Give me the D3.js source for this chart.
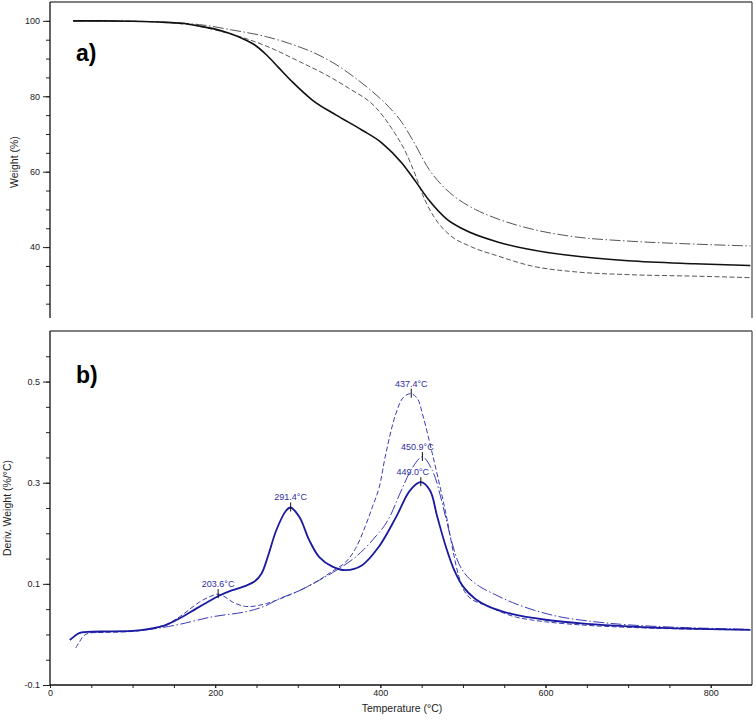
<!DOCTYPE html>
<html>
<head>
<meta charset="utf-8">
<script src="https://cdn.jsdelivr.net/npm/d3@7/dist/d3.min.js"></script>
<style>
  html, body { margin: 0; padding: 0; background: #fff; }
  svg { display: block; }
  text { font-family: "Liberation Sans", Arial, sans-serif; }
</style>
</head>
<body>
<svg id="chart" width="756" height="720"></svg>
<script>
// ---------- DATA ----------
// TGA (top panel): weight % vs temperature
const tgaSolidT = [28, 60, 100, 140, 163, 181, 200, 217, 233, 248, 262, 276, 293.5, 317.6, 346.6, 378, 402, 426, 443, 459, 480, 500, 543, 583, 633, 700, 780, 848];
const tgaSolidV = [100, 100, 99.9, 99.6, 99.3, 98.6, 97.8, 96.7, 95.3, 93.6, 91.0, 87.8, 83.8, 79.0, 75.0, 71.0, 67.6, 62.3, 57.3, 52.4, 47.5, 44.8, 41.3, 39.3, 37.7, 36.4, 35.6, 35.1];

const tgaDashT = [28, 100, 161, 200, 233, 262, 302, 335, 362, 394.5, 414, 431, 443, 451, 465, 483, 510, 543, 583, 633, 700, 780, 848];
const tgaDashV = [100, 99.9, 99.2, 97.6, 95.6, 93.3, 89.2, 85.6, 82.1, 77.0, 71.4, 65.0, 58.8, 54.0, 48.0, 43.4, 40.1, 37.6, 35.0, 33.5, 32.7, 32.3, 31.9];

const tgaDotT = [28, 100, 181, 220, 262, 290, 322, 345, 370, 390, 410.6, 425, 438.6, 459, 475, 491, 515, 543, 583, 633, 700, 780, 848];
const tgaDotV = [100, 99.9, 99.0, 97.6, 95.8, 94.0, 91.3, 88.6, 84.8, 81.3, 77.1, 73.4, 68.6, 60.6, 56.3, 53.2, 50.0, 47.4, 44.8, 42.8, 41.6, 40.8, 40.3];

// DTG (bottom panel): derivative weight %/°C vs temperature
const dtgSolidT = [24, 30, 36, 45, 70, 100, 120, 141, 157, 177, 190, 204, 220, 237, 248, 256, 264, 274, 286, 291.4, 302, 314, 326, 342, 358, 378, 398, 419, 436, 449, 460, 469, 480, 490, 500, 515, 530, 560, 600, 650, 700, 760, 848];
const dtgSolidV = [-0.011, -0.003, 0.003, 0.005, 0.006, 0.007, 0.011, 0.019, 0.032, 0.051, 0.063, 0.076, 0.087, 0.096, 0.105, 0.12, 0.155, 0.206, 0.245, 0.251, 0.232, 0.186, 0.153, 0.134, 0.127, 0.137, 0.173, 0.232, 0.285, 0.301, 0.285, 0.232, 0.17, 0.125, 0.095, 0.07, 0.056, 0.04, 0.029, 0.021, 0.016, 0.012, 0.009];

const dtgDashT = [31, 36, 40, 46, 70, 100, 120, 141, 157, 181, 194, 204, 213, 221, 232, 241.5, 262, 290, 318, 342, 358, 370, 382, 391, 398.5, 406.6, 418.7, 428, 437.4, 445, 451, 463, 475, 481, 488, 495, 502, 510, 520, 532, 545, 565, 600, 650, 700, 760, 848];
const dtgDashV = [-0.027, -0.014, -0.004, 0.002, 0.004, 0.006, 0.01, 0.02, 0.035, 0.064, 0.075, 0.0797, 0.073, 0.064, 0.057, 0.055, 0.061, 0.078, 0.1, 0.125, 0.143, 0.17, 0.215, 0.255, 0.29, 0.357, 0.436, 0.469, 0.476, 0.466, 0.436, 0.357, 0.272, 0.226, 0.165, 0.115, 0.085, 0.07, 0.062, 0.055, 0.045, 0.034, 0.025, 0.018, 0.014, 0.011, 0.009];

const dtgDotT = [32, 38, 50, 80, 110, 130, 157, 197, 237.5, 260, 278, 300, 318, 342, 366, 380, 395, 405, 413, 423, 439, 450.9, 463, 473, 479, 487, 495, 505, 520, 540, 560, 590, 620, 660, 700, 760, 848];
const dtgDotV = [0.0, 0.004, 0.005, 0.006, 0.008, 0.012, 0.02, 0.035, 0.045, 0.056, 0.071, 0.085, 0.1, 0.122, 0.148, 0.168, 0.195, 0.215, 0.238, 0.276, 0.330, 0.351, 0.324, 0.272, 0.232, 0.18, 0.14, 0.115, 0.095, 0.078, 0.063, 0.046, 0.034, 0.025, 0.019, 0.014, 0.010];

// Peak annotations
const peakT = [203.6, 291.4, 437.4, 450.9, 449.0];
const peakV = [0.0797, 0.251, 0.476, 0.351, 0.301];
const peakLabels = ["203.6°C", "291.4°C", "437.4°C", "450.9°C", "449.0°C"];

// Tick values
const xTickLabels = [0, 200, 400, 600, 800];
const topYTickLabels = [40, 60, 80, 100];
const botYTickLabels = [-0.1, 0.1, 0.3, 0.5];

// ---------- LAYOUT ----------
const svg = d3.select("#chart");
const left = 50, right = 752;
const topPanel = { y0: 2, y1: 318 };
const botPanel = { y0: 331, y1: 685 };

const x = d3.scaleLinear().domain([0, 850]).range([left, right]);
const yTop = d3.scaleLinear().domain([21.2, 105]).range([topPanel.y1, topPanel.y0]);
const yBot = d3.scaleLinear().domain([-0.1, 0.6]).range([botPanel.y1, botPanel.y0]);

const zip = (a, b) => a.map((t, i) => [t, b[i]]);

const defs = svg.append("defs");
defs.append("clipPath").attr("id", "clipTop").append("rect")
  .attr("x", left).attr("y", topPanel.y0).attr("width", right - left).attr("height", topPanel.y1 - topPanel.y0);
defs.append("clipPath").attr("id", "clipBot").append("rect")
  .attr("x", left).attr("y", botPanel.y0).attr("width", right - left).attr("height", botPanel.y1 - botPanel.y0);

// ---------- TOP PANEL ----------
const lineTop = d3.line().x(d => x(d[0])).y(d => yTop(d[1])).curve(d3.curveMonotoneX);
const gTop = svg.append("g").attr("clip-path", "url(#clipTop)");
gTop.append("path").attr("d", lineTop(zip(tgaDotT, tgaDotV)))
  .attr("fill", "none").attr("stroke", "#555").attr("stroke-width", 1).attr("stroke-dasharray", "11,2.5,1.5,2.5");
gTop.append("path").attr("d", lineTop(zip(tgaDashT, tgaDashV)))
  .attr("fill", "none").attr("stroke", "#555").attr("stroke-width", 1).attr("stroke-dasharray", "5,2.5");
gTop.append("path").attr("d", lineTop(zip(tgaSolidT, tgaSolidV)))
  .attr("fill", "none").attr("stroke", "#111").attr("stroke-width", 1.6);

svg.append("line").attr("x1", left).attr("x2", right).attr("y1", topPanel.y0).attr("y2", topPanel.y0)
  .attr("stroke", "#555").attr("stroke-width", 1.3);
svg.append("line").attr("x1", right).attr("x2", right).attr("y1", topPanel.y0).attr("y2", topPanel.y1)
  .attr("stroke", "#555").attr("stroke-width", 1.3);

const topAxis = svg.append("g").attr("transform", `translate(${left},0)`)
  .call(d3.axisLeft(yTop).tickValues(d3.range(25, 105, 5)).tickSize(4).tickFormat(""));
topAxis.select(".domain").remove();
topAxis.selectAll("line").attr("stroke", "#222");
const topMajor = svg.append("g").attr("transform", `translate(${left},0)`)
  .call(d3.axisLeft(yTop).tickValues(topYTickLabels).tickSize(7).tickPadding(3).tickFormat(d3.format("d")));
topMajor.select(".domain").remove();
topMajor.selectAll("line").attr("stroke", "#222");
topMajor.selectAll("text").attr("font-size", 9).attr("fill", "#222")
  .attr("font-family", "'Liberation Sans', Arial, sans-serif");
svg.append("line").attr("x1", left).attr("x2", left).attr("y1", topPanel.y0).attr("y2", topPanel.y1)
  .attr("stroke", "#111").attr("stroke-width", 1.3);

svg.append("text").attr("transform", `translate(15,162) rotate(-90)`)
  .attr("text-anchor", "middle").attr("dominant-baseline", "middle")
  .attr("font-size", 10.5).attr("fill", "#222").text("Weight (%)");

svg.append("text").attr("x", 76).attr("y", 61)
  .attr("font-family", "Lato, 'Open Sans', sans-serif").attr("font-weight", "900")
  .attr("font-size", 23).attr("fill", "#000").text("a)");

// ---------- BOTTOM PANEL ----------
const lineBot = d3.line().x(d => x(d[0])).y(d => yBot(d[1])).curve(d3.curveCatmullRom.alpha(0.5));
const gBot = svg.append("g").attr("clip-path", "url(#clipBot)");
gBot.append("path").attr("d", lineBot(zip(dtgDotT, dtgDotV)))
  .attr("fill", "none").attr("stroke", "#3b3bb5").attr("stroke-width", 1).attr("stroke-dasharray", "11,2.5,1.5,2.5");
gBot.append("path").attr("d", lineBot(zip(dtgDashT, dtgDashV)))
  .attr("fill", "none").attr("stroke", "#3b3bb5").attr("stroke-width", 1).attr("stroke-dasharray", "5,2.5");
gBot.append("path").attr("d", lineBot(zip(dtgSolidT, dtgSolidV)))
  .attr("fill", "none").attr("stroke", "#1a1aa0").attr("stroke-width", 1.8);

svg.append("line").attr("x1", left).attr("x2", right).attr("y1", botPanel.y0).attr("y2", botPanel.y0)
  .attr("stroke", "#555").attr("stroke-width", 1.3);
svg.append("line").attr("x1", right).attr("x2", right).attr("y1", botPanel.y0).attr("y2", botPanel.y1)
  .attr("stroke", "#555").attr("stroke-width", 1.3);

const botMinor = svg.append("g").attr("transform", `translate(${left},0)`)
  .call(d3.axisLeft(yBot).tickValues(d3.range(-0.05, 0.58, 0.05)).tickSize(4).tickFormat(""));
botMinor.select(".domain").remove();
botMinor.selectAll("line").attr("stroke", "#222");
const botMajor = svg.append("g").attr("transform", `translate(${left},0)`)
  .call(d3.axisLeft(yBot).tickValues(botYTickLabels).tickSize(7).tickPadding(3).tickFormat(d3.format(".1f")));
botMajor.select(".domain").remove();
botMajor.selectAll("line").attr("stroke", "#222");
botMajor.selectAll("text").attr("font-size", 9).attr("fill", "#222")
  .attr("font-family", "'Liberation Sans', Arial, sans-serif")
  .text(d => d3.format(".1f")(d).replace("−", "-"));

const xMinor = svg.append("g").attr("transform", `translate(0,${botPanel.y1})`)
  .call(d3.axisBottom(x).tickValues(d3.range(50, 850, 50)).tickSize(3).tickFormat(""));
xMinor.select(".domain").remove();
xMinor.selectAll("line").attr("stroke", "#222");
const xMajor = svg.append("g").attr("transform", `translate(0,${botPanel.y1})`)
  .call(d3.axisBottom(x).tickValues(xTickLabels).tickSize(3).tickPadding(2).tickFormat(d3.format("d")));
xMajor.select(".domain").remove();
xMajor.selectAll("line").attr("stroke", "#222");
xMajor.selectAll("text").attr("font-size", 9).attr("fill", "#222")
  .attr("font-family", "'Liberation Sans', Arial, sans-serif");

svg.append("line").attr("x1", left).attr("x2", left).attr("y1", botPanel.y0).attr("y2", botPanel.y1)
  .attr("stroke", "#111").attr("stroke-width", 1.3);
svg.append("line").attr("x1", left).attr("x2", right).attr("y1", botPanel.y1).attr("y2", botPanel.y1)
  .attr("stroke", "#111").attr("stroke-width", 1.3);

svg.append("text").attr("transform", `translate(8,508) rotate(-90)`)
  .attr("text-anchor", "middle").attr("dominant-baseline", "middle")
  .attr("font-size", 10.5).attr("fill", "#222").text("Deriv. Weight (%/°C)");

svg.append("text").attr("x", 402).attr("y", 709)
  .attr("text-anchor", "middle").attr("dominant-baseline", "middle")
  .attr("font-size", 10.5).attr("fill", "#222").text("Temperature (°C)");

svg.append("text").attr("x", 76).attr("y", 383)
  .attr("font-family", "Lato, 'Open Sans', sans-serif").attr("font-weight", "900")
  .attr("font-size", 23).attr("fill", "#000").text("b)");

const labelDx = [0, 0, 0, -5, -8];
peakT.forEach((t, i) => {
  const px = x(t), py = yBot(peakV[i]);
  svg.append("line").attr("x1", px).attr("x2", px).attr("y1", py - 5).attr("y2", py + 4)
    .attr("stroke", "#111").attr("stroke-width", 1);
  svg.append("text").attr("x", px + labelDx[i]).attr("y", py - 7)
    .attr("text-anchor", "middle").attr("font-size", 9).attr("fill", "#2e2ea0")
    .text(peakLabels[i]);
});
</script>
</body>
</html>
